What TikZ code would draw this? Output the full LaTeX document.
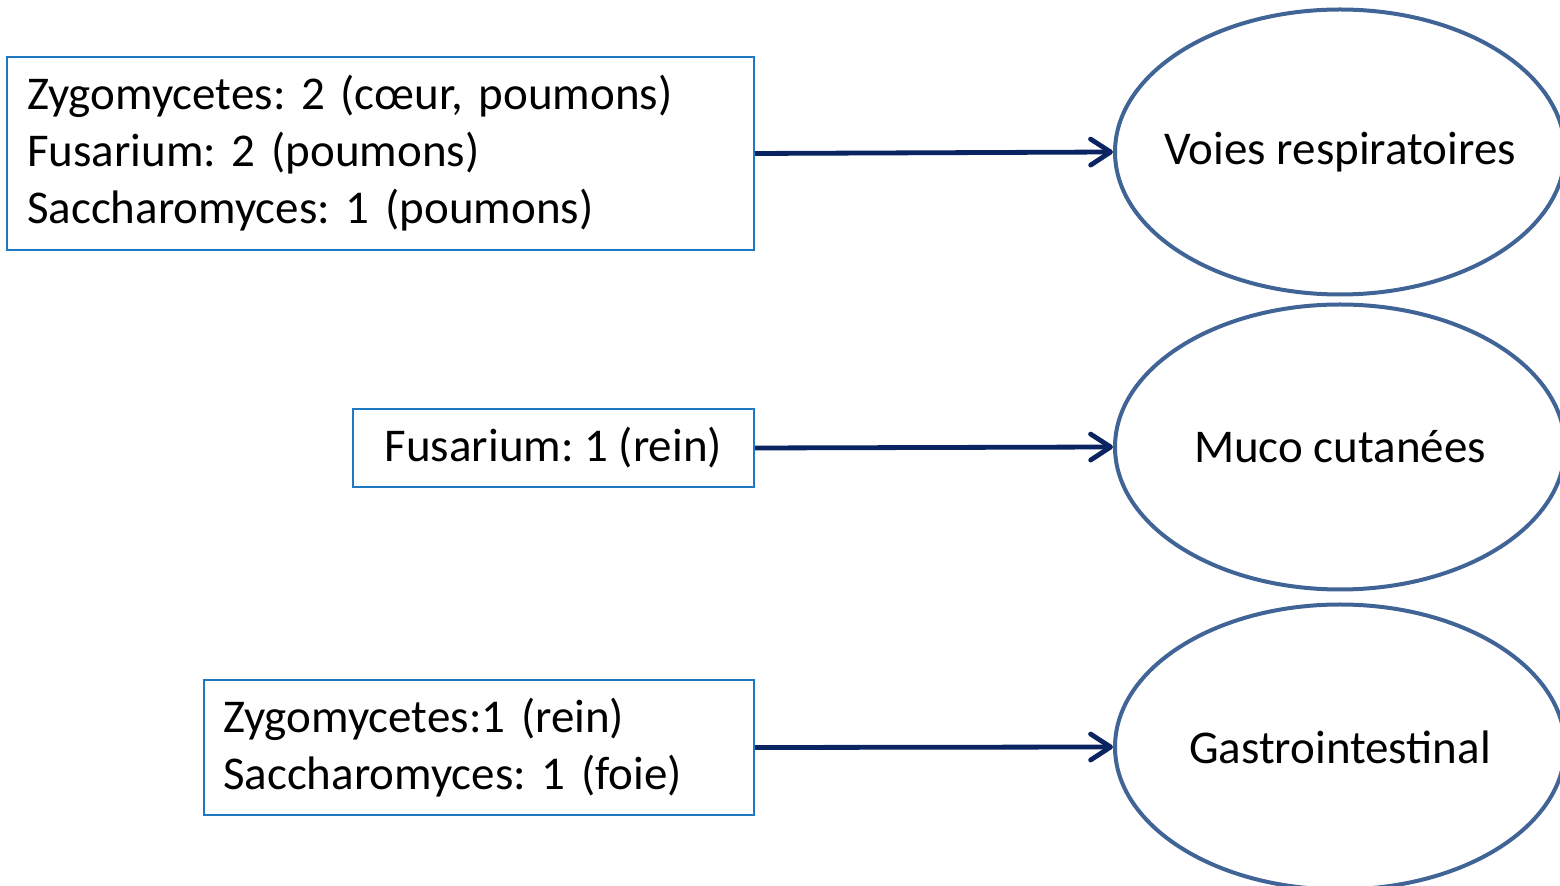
\documentclass[tikz,border=0pt]{standalone}
\usepackage{fontspec}
\setmainfont{Carlito}
\usetikzlibrary{shapes.geometric,arrows.meta}
\definecolor{boxblue}{HTML}{1F78C4}
\definecolor{ovalblue}{HTML}{3F6495}
\definecolor{arrownavy}{HTML}{0A2462}
\frenchspacing
\begin{document}
\begin{tikzpicture}[x=0.5pt,y=-0.5pt]
    \tikzstyle{every node}+=[font=\fontsize{23.5pt}{28.5pt}\selectfont]
    \tikzstyle{srcbox}=[draw=boxblue, line width=0.9pt, rectangle, align=left, inner ysep=0pt]
    \tikzstyle{site}=[draw=ovalblue, line width=2pt, ellipse, minimum width=225pt, minimum height=142.5pt, inner xsep=-30pt, inner ysep=0pt]
    \tikzstyle{link}=[draw=arrownavy, line width=2.4pt, -{Straight Barb[round, length=10pt, width=13pt]}]
    \useasboundingbox (0,0) rectangle (1560,886);
    \clip (0,0) rectangle (1560,886);
    \fill [white] (0,0) rectangle (1560,886);
    % sites
    \node [site] (resp) at (1340,152) {Voies respiratoires};
    \node [site] (muco) at (1340,447) {Muco cutanées};
    \node [site] (gastro) at (1340,747) {Gastrointestinal};
    % fungi
    \node [srcbox, anchor=east, text width=353.5pt, inner xsep=10pt, minimum height=96.5pt] (fungi1) at (755,153.5)
        {Zygomycetes: 2 (cœur, poumons)\\Fusarium: 2 (poumons)\\Saccharomyces: 1 (poumons)};
    \node [srcbox, anchor=east, inner xsep=16pt, minimum height=39pt] (fungi2) at (755,448)
        {Fusarium: 1 (rein)};
    \node [srcbox, anchor=east, text width=256pt, inner xsep=9.5pt, minimum height=67.5pt] (fungi3) at (755,747.5)
        {Zygomycetes:1 (rein)\\Saccharomyces: 1 (foie)};
    % links
    \draw [link] (fungi1.east) -- (resp.west);
    \draw [link] (fungi2.east) -- (muco.west);
    \draw [link] (fungi3.east) -- (gastro.west);
\end{tikzpicture}
\end{document}
